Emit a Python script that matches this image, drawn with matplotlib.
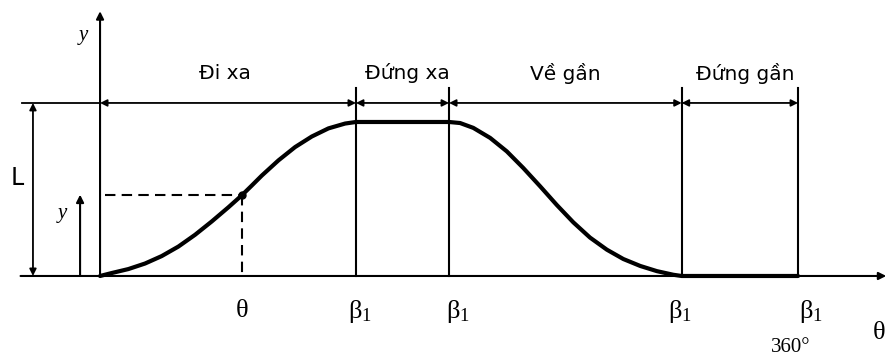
import numpy as np
import matplotlib.pyplot as plt

plt.rcParams['mathtext.fontset'] = 'custom'
plt.rcParams['mathtext.rm'] = 'Liberation Serif'

# cam follower displacement y(theta), theta in degrees, y relative to L
theta_rise = [0, 6, 14.6, 23.2, 31.8, 40.4, 49, 57.6, 66.2, 73.1, 78.2, 83.4,
              92, 100.6, 109.2, 117.8, 126.4, 132]
y_rise = [0, 0.017, 0.040, 0.072, 0.115, 0.170, 0.238, 0.315, 0.397, 0.466,
          0.522, 0.580, 0.668, 0.745, 0.806, 0.853, 0.881, 0.89]
theta_fall = [180, 185.7, 192.5, 201.2, 209.8, 218.3, 227, 235.6, 244.1, 252.7,
              261.4, 269.9, 278.6, 287.2, 295.7, 300]
y_fall = [0.89, 0.884, 0.856, 0.798, 0.720, 0.624, 0.518, 0.410, 0.310, 0.222,
          0.152, 0.098, 0.058, 0.028, 0.007, 0]

# phase boundaries and names
beta = [0, 132, 180, 300, 360]
phases = ['Đi xa', 'Đứng xa', 'Về gần', 'Đứng gần']
L = 1.0

# sample point on the rise
theta_pt, y_pt = 73, 0.47

theta = theta_rise + theta_fall + [360]
y = y_rise + y_fall + [0]

fig = plt.figure(figsize=(8.88, 3.58), dpi=100)
ax = fig.add_axes([0, 0, 1, 1])
ax.set_xlim(-51.6, 406.4)
ax.set_ylim(-0.474, 1.595)
ax.axis('off')

k = 'black'
arr = dict(arrowstyle='-|>', color=k, lw=1.5, mutation_scale=11,
           shrinkA=0, shrinkB=0)
dim = dict(arrowstyle='<|-|>', color=k, lw=1.3, mutation_scale=10,
           shrinkA=0, shrinkB=0)

# axes
ax.annotate('', xy=(405.5, 0), xytext=(-41, 0), arrowprops=arr)
ax.annotate('', xy=(0, 1.53), xytext=(0, 0), arrowprops=arr)
ax.text(-8.8, 1.39, 'y', fontsize=15, family='Liberation Serif',
        style='italic', ha='center', va='center')
ax.text(402, -0.33, 'θ', fontsize=19, family='Liberation Serif',
        ha='center', va='center')

# stroke L
ax.plot([-40.2, 0], [L, L], color=k, lw=1.3)
ax.annotate('', xy=(-34.6, L), xytext=(-34.6, 0), arrowprops=dim)
ax.text(-42.8, 0.566, 'L', fontsize=17, family='DejaVu Sans',
        ha='center', va='center')

# phase dimension lines
for a, b in zip(beta[:-1], beta[1:]):
    ax.annotate('', xy=(b, L), xytext=(a, L), arrowprops=dim)
for b in beta[1:]:
    ax.plot([b, b], [0, 1.085], color=k, lw=1.5)
label_x = [64.5, 158.3, 239.8, 332.6]
for name, lx in zip(phases, label_x):
    ax.text(lx, 1.173, name, fontsize=14.5, family='DejaVu Sans',
            ha='center', va='center')

# displacement curve
ax.plot(theta, y, color=k, lw=3, solid_joinstyle='round',
        solid_capstyle='round')

# point y(theta)
ax.plot([2.6, theta_pt], [y_pt, y_pt], color=k, lw=1.5, ls=(0, (5, 3)))
ax.plot([theta_pt, theta_pt], [y_pt, 0], color=k, lw=1.5, ls=(0, (5, 3)))
ax.plot(theta_pt, y_pt, 'o', color=k, ms=5)
ax.annotate('', xy=(-10.3, y_pt), xytext=(-10.3, 0), arrowprops=arr)
ax.text(-19.6, 0.364, 'y', fontsize=15, family='Liberation Serif',
        style='italic', ha='center', va='center')

# theta axis labels
ax.text(theta_pt, -0.2, 'θ', fontsize=19, family='Liberation Serif',
        ha='center', va='center')
beta_dx = [2, 4.6, -1, 6.7]
for b, dx in zip(beta[1:], beta_dx):
    ax.text(b + dx, -0.205, r'$\mathrm{β_1}$', fontsize=19,
            ha='center', va='center')
ax.text(356.4, -0.416, '360°', fontsize=15, family='Liberation Serif',
        ha='center', va='center')

fig.savefig('out.png', dpi=100)
